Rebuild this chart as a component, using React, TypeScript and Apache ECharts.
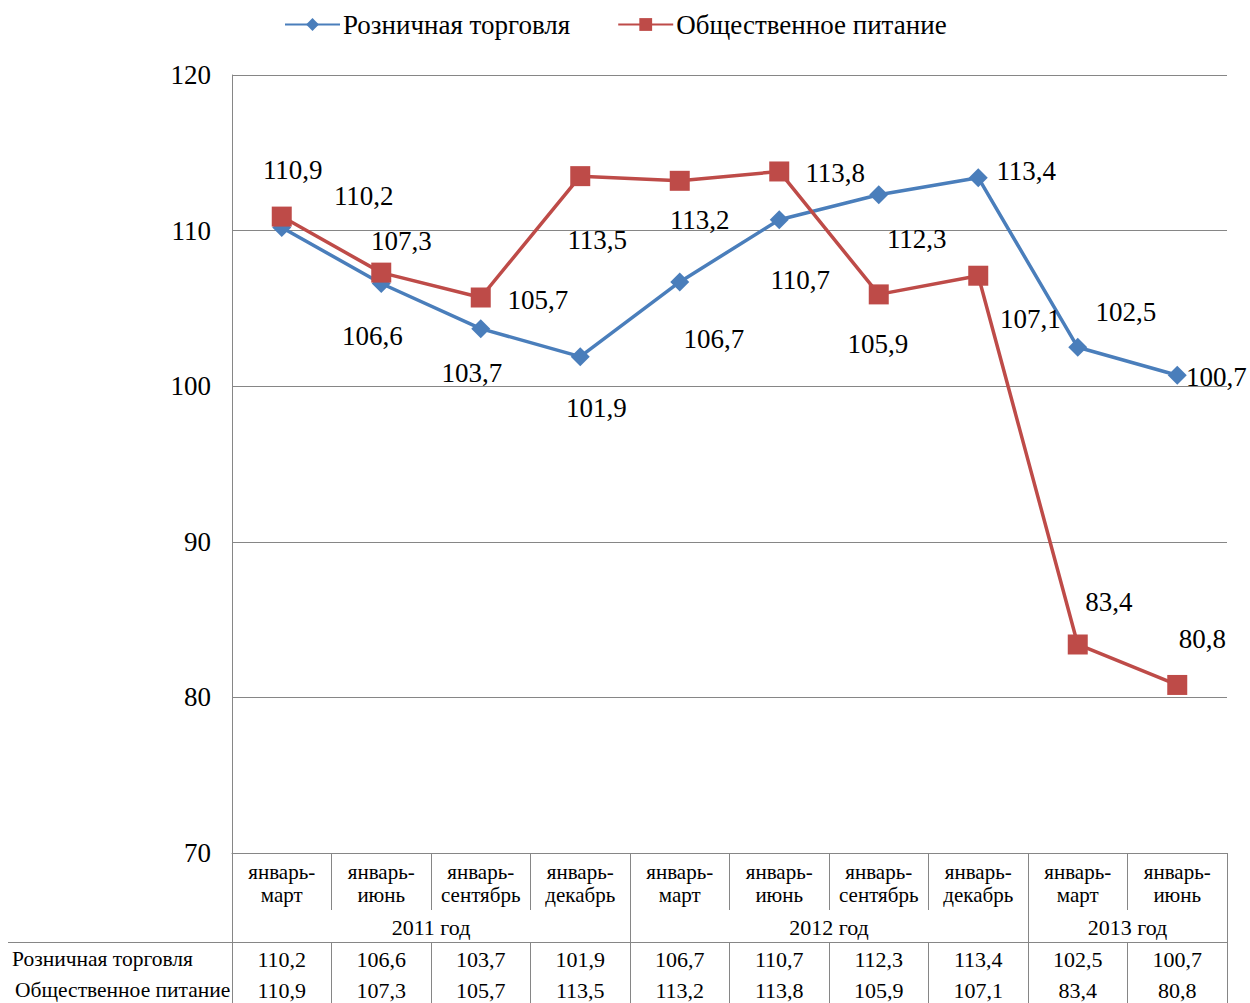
import React, { useEffect, useRef } from "react";
import * as echarts from "echarts";

const categories = [
  "январь-\nмарт",
  "январь-\nиюнь",
  "январь-\nсентябрь",
  "январь-\nдекабрь",
  "январь-\nмарт",
  "январь-\nиюнь",
  "январь-\nсентябрь",
  "январь-\nдекабрь",
  "январь-\nмарт",
  "январь-\nиюнь",
];
const years = ["2011 год", "2012 год", "2013 год"];
const yearCenters = [2, 6, 9];
const yearBounds = [0, 4, 8, 10];
const retailName = "Розничная торговля";
const foodName = "Общественное питание";
const retail = [110.2, 106.6, 103.7, 101.9, 106.7, 110.7, 112.3, 113.4, 102.5, 100.7];
const food = [110.9, 107.3, 105.7, 113.5, 113.2, 113.8, 105.9, 107.1, 83.4, 80.8];
const yTicks = [70, 80, 90, 100, 110, 120];

// label offsets (style, relative to point)
const retailLabelOffsets = [
  [82, -31], [-9, 52], [-9, 44], [16, 51], [34, 57],
  [21, 60], [38, 44], [48, -7], [48, -35], [39, 2],
];
const foodLabelOffsets = [
  [11, -47], [20, -32], [57, 2], [17, 64], [20, 39],
  [56, 2], [-1, 50], [52, 43], [31, -42], [25, -46],
];

const BLUE = "#4A7EBB";
const RED = "#BE4B48";
const GRID = "#868686";
const FONT = "'Liberation Serif', 'DejaVu Serif', serif";

const fmt = (v: number) => String(v).replace(".", ",");

export default function App() {
  const ref = useRef<HTMLDivElement>(null);
  useEffect(() => {
    if (!ref.current) return;
    const chart = echarts.init(ref.current, undefined, { renderer: "svg" });
    const mk = (vals: number[], offs: number[][]) =>
      vals.map((v, i) => ({ value: v, label: { offset: offs[i] } }));
    const labelBase = {
      show: true,
      position: "inside" as const,
      color: "#000",
      fontSize: 27,
      fontFamily: FONT,
      formatter: (p: any) => fmt(p.value),
    };
    chart.setOption({
      animation: false,
      textStyle: { fontFamily: FONT, color: "#000" },
      legend: {
        top: 6,
        left: 279,
        itemWidth: 55,
        itemHeight: 16,
        itemGap: 47,
        textStyle: { fontSize: 27, color: "#000", fontFamily: FONT, padding: [0, 0, 0, -2] },
        data: [retailName, foodName],
      },
      grid: {
        left: 232,
        top: 75,
        width: 995,
        height: 778,
        containLabel: false,
        outerBoundsMode: "none",
      },
      xAxis: [
        {
          type: "category",
          data: categories,
          boundaryGap: true,
          axisLine: { show: true, lineStyle: { color: GRID, width: 1 } },
          axisTick: { show: true, interval: 0, length: 57, lineStyle: { color: GRID } },
          axisLabel: {
            interval: 0,
            fontSize: 21,
            lineHeight: 23,
            margin: 7,
            color: "#000",
            fontFamily: FONT,
          },
          splitLine: { show: false },
        },
        {
          type: "value",
          min: 0,
          max: 10,
          position: "bottom",
          offset: 0,
          axisLine: { show: false },
          splitLine: { show: false },
          axisTick: {
            show: true,
            customValues: yearBounds,
            length: 89,
            lineStyle: { color: GRID },
          },
          axisLabel: {
            customValues: yearCenters,
            fontSize: 22,
            margin: 63,
            color: "#000",
            fontFamily: FONT,
            formatter: (v: number) => {
              const i = yearCenters.indexOf(v);
              return i >= 0 ? years[i] : "";
            },
          },
        },
        {
          type: "category",
          data: categories,
          boundaryGap: true,
          position: "bottom",
          offset: 89,
          axisLine: { show: true, lineStyle: { color: GRID, width: 1 } },
          axisTick: { show: true, interval: 0, length: 61, lineStyle: { color: GRID } },
          axisLabel: {
            interval: 0,
            fontSize: 22,
            lineHeight: 31,
            margin: 2,
            color: "#000",
            fontFamily: FONT,
            formatter: (_v: string, i: number) => fmt(retail[i]) + "\n" + fmt(food[i]),
          },
          splitLine: { show: false },
        },
      ],
      yAxis: {
        type: "value",
        min: yTicks[0],
        max: yTicks[yTicks.length - 1],
        interval: 10,
        axisLine: { show: true, lineStyle: { color: GRID, width: 1 } },
        axisTick: { show: false },
        axisLabel: { fontSize: 27, margin: 21, color: "#000", fontFamily: FONT },
        splitLine: { show: true, lineStyle: { color: GRID, width: 1 } },
      },
      graphic: [
        {
          type: "line",
          shape: { x1: 8, y1: 942.5, x2: 232, y2: 942.5 },
          style: { stroke: GRID, lineWidth: 1 },
        },
        {
          type: "text",
          left: 12,
          top: 948,
          style: { text: retailName, fontSize: 21.5, fontFamily: FONT, fill: "#000" },
        },
        {
          type: "text",
          left: 15,
          top: 979,
          style: { text: foodName, fontSize: 21.5, fontFamily: FONT, fill: "#000" },
        },
      ],
      series: [
        {
          name: retailName,
          type: "line",
          xAxisIndex: 0,
          data: mk(retail, retailLabelOffsets),
          symbol: "diamond",
          symbolSize: 19,
          lineStyle: { color: BLUE, width: 3.5 },
          itemStyle: { color: BLUE },
          label: labelBase,
          z: 2,
        },
        {
          name: foodName,
          type: "line",
          xAxisIndex: 0,
          data: mk(food, foodLabelOffsets),
          symbol: "rect",
          symbolSize: 20,
          lineStyle: { color: RED, width: 3.5 },
          itemStyle: { color: RED },
          label: labelBase,
          z: 3,
        },
      ],
    });
    return () => chart.dispose();
  }, []);
  return (
    <div
      ref={ref}
      style={{ position: "fixed", left: 0, top: 0, width: 1250, height: 1003, background: "#fff" }}
    />
  );
}
